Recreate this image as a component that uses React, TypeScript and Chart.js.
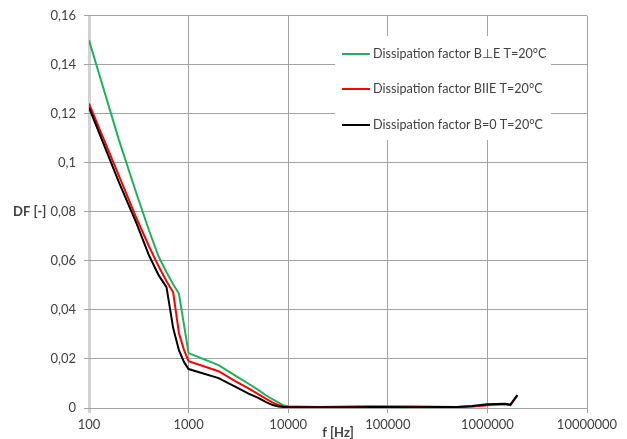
import React, { useEffect, useRef } from "react";
import { Chart, registerables } from "chart.js";

Chart.register(...registerables);

const frequencies = [
  100, 200, 300, 400, 500, 600, 700, 800, 900, 1000,
  2000, 3000, 4000, 5000, 6000, 7000, 8000, 9000, 10000,
  20000, 30000, 50000, 70000, 100000, 200000, 300000, 500000, 700000,
  1000000, 1500000, 1700000, 2000000,
];

const dfPerpendicular = [
  0.150, 0.1093, 0.0874, 0.0725, 0.0618, 0.0554, 0.0505, 0.0466, 0.0338, 0.0224,
  0.0175, 0.013, 0.0099, 0.0074, 0.0051, 0.0035, 0.0022, 0.001, 0.0007,
  0.0004, 0.0004, 0.0005, 0.0006, 0.0005, 0.0004, 0.0004, 0.0004, 0.0006,
  0.0012, 0.0015, 0.0012, 0.0050,
];

const dfParallel = [
  0.1242, 0.0947, 0.0774, 0.066, 0.0578, 0.0517, 0.0472, 0.0305, 0.0236, 0.0191,
  0.015, 0.0108, 0.008, 0.0057, 0.0037, 0.0022, 0.0012, 0.0006, 0.0004,
  0.0004, 0.0005, 0.0006, 0.0006, 0.0006, 0.0006, 0.0005, 0.0004, 0.0006,
  0.0011, 0.0016, 0.0013, 0.0052,
];

const dfZero = [
  0.1226, 0.092, 0.0753, 0.0623, 0.0542, 0.0493, 0.0326, 0.0236, 0.0187, 0.0159,
  0.0122, 0.0085, 0.0059, 0.0041, 0.0024, 0.0012, 0.0006, 0.0004, 0.0003,
  0.0003, 0.0003, 0.0003, 0.0004, 0.0004, 0.0003, 0.0004, 0.0004, 0.0008,
  0.0015, 0.0017, 0.0013, 0.0053,
];

const seriesLabels = [
  "Dissipation factor B⊥E T=20°C",
  "Dissipation factor BIIE T=20°C",
  "Dissipation factor B=0 T=20°C",
];
const seriesColors = ["#1fb159", "#ff0000", "#000000"];

const xTickValues = [100, 1000, 10000, 100000, 1000000, 10000000];
const xTickLabels = ["100", "1000", "10000", "100000", "1000000", "10000000"];
const yTickLabels = ["0", "0,02", "0,04", "0,06", "0,08", "0,1", "0,12", "0,14", "0,16"];

const xTitle = "f [Hz]";
const yTitle = "DF [-]";

const FONT = "Lato, 'Open Sans', sans-serif";
const TEXT = "#404040";
const GRID = "#a3a3a3";

const overlayPlugin = {
  id: "overlay",
  afterDraw(chart: any) {
    const ctx = chart.ctx;
    ctx.save();
    // axis titles
    ctx.fillStyle = TEXT;
    ctx.font = `bold 13px ${FONT}`;
    ctx.textBaseline = "middle";
    ctx.textAlign = "left";
    ctx.fillText(yTitle, 13, 212);
    ctx.textAlign = "center";
    ctx.fillText(xTitle, 338, 433);

    // legend
    ctx.fillStyle = "#ffffff";
    ctx.fillRect(335, 36, 216, 104);
    const rows = [54, 89, 125];
    chart.data.datasets.forEach((ds: any, i: number) => {
      const y = rows[i];
      ctx.strokeStyle = ds.borderColor;
      ctx.lineWidth = 2;
      ctx.beginPath();
      ctx.moveTo(342, y);
      ctx.lineTo(370, y);
      ctx.stroke();
      ctx.fillStyle = TEXT;
      ctx.font = `12.6px ${FONT}`;
      ctx.textAlign = "left";
      ctx.textBaseline = "middle";
      ctx.fillText(ds.label, 373, y);
    });
    ctx.restore();
  },
};

export default function App() {
  const canvasRef = useRef<HTMLCanvasElement | null>(null);

  useEffect(() => {
    if (!canvasRef.current) return;
    const makeData = (vals: number[]) => frequencies.map((f, i) => ({ x: f, y: vals[i] }));
    const allValues = [dfPerpendicular, dfParallel, dfZero];
    const chart = new Chart(canvasRef.current, {
      type: "line",
      data: {
        datasets: allValues.map((vals, i) => ({
          label: seriesLabels[i],
          data: makeData(vals),
          borderColor: seriesColors[i],
          backgroundColor: seriesColors[i],
          borderWidth: 2,
          pointRadius: 0,
          tension: 0,
          fill: false,
          order: 3 - i,
        })),
      },
      options: {
        animation: false,
        responsive: true,
        maintainAspectRatio: false,
        layout: { padding: { top: 15, right: 40, left: 0, bottom: 0 } },
        plugins: {
          legend: { display: false },
          tooltip: { enabled: false },
          title: { display: false },
        },
        scales: {
          x: {
            type: "logarithmic",
            min: 100,
            max: 10000000,
            afterBuildTicks: (s: any) => {
              s.ticks = xTickValues.map((v) => ({ value: v }));
            },
            afterFit: (s: any) => {
              s.height = 31;
            },
            ticks: {
              autoSkip: false,
              maxRotation: 0,
              padding: 4,
              color: TEXT,
              font: { family: FONT, size: 13 },
              callback: (_v: any, i: number) => xTickLabels[i],
            },
            grid: {
              color: (c: any) => (c.index === 0 ? "#d2d2d2" : GRID),
              lineWidth: (c: any) => (c.index === 0 ? 3 : 1),
              tickLength: 5,
            },
            border: { display: false },
          },
          y: {
            min: 0,
            max: 0.16,
            afterFit: (s: any) => {
              s.width = 89;
            },
            ticks: {
              stepSize: 0.02,
              padding: 8,
              color: TEXT,
              font: { family: FONT, size: 13 },
              callback: (_v: any, i: number) => yTickLabels[i],
            },
            grid: { color: GRID, lineWidth: 1, tickLength: 5 },
            border: { display: false },
          },
        },
      },
      plugins: [overlayPlugin],
    } as any);
    return () => chart.destroy();
  }, []);

  return (
    <div
      style={{
        position: "fixed",
        left: 0,
        top: 0,
        width: 627,
        height: 439,
        background: "#ffffff",
      }}
    >
      <canvas ref={canvasRef} />
    </div>
  );
}
